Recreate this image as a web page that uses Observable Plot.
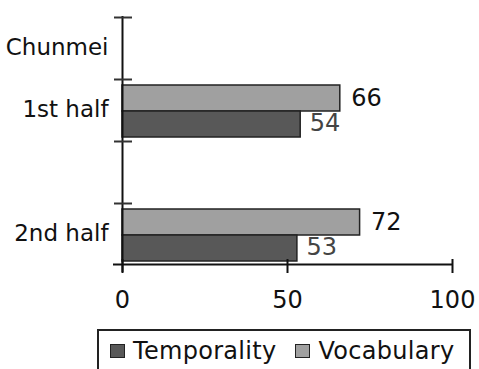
<!DOCTYPE html>
<html>
<head>
<meta charset="utf-8">
<script src="https://cdn.jsdelivr.net/npm/d3@7"></script>
<script src="https://cdn.jsdelivr.net/npm/@observablehq/plot@0.6"></script>
<style>
  html, body { margin: 0; padding: 0; background: #fff; }
  #wrap { position: relative; width: 479px; height: 369px; overflow: hidden; background: #fff; }
  #legend { position: absolute; left: 97px; top: 329px; width: 374px; height: 60px; box-sizing: border-box;
            border-top: 2px solid #222; border-left: 2px solid #222; border-right: 2px solid #222;
            font-family: "DejaVu Sans", sans-serif; font-size: 24px; letter-spacing: 0.3px; color: #111; }
  #legend .row { display: flex; align-items: center; height: 40px; padding-left: 11px; }
  #legend .sw { display: inline-block; width: 13px; height: 12px; border: 1px solid #222; margin-right: 8px; }
</style>
</head>
<body>
<div id="wrap"><div id="chart"></div><div id="legend"></div></div>
<script>
const groups = ["Chunmei", "1st half", " ", "2nd half"];
const barGroups = ["1st half", "2nd half"];
const seriesNames = ["Temporality", "Vocabulary"];
const temporality = [54, 53];
const vocabulary = [66, 72];
const xTicks = [0, 50, 100];
const colors = {Temporality: "#585858", Vocabulary: "#a0a0a0"};

const rows = barGroups.map((g, i) => ({group: g, Temporality: temporality[i], Vocabulary: vocabulary[i]}));

const chart = Plot.plot({
  width: 479,
  height: 322,
  marginLeft: 122,
  marginRight: 27,
  marginTop: 16,
  marginBottom: 58,
  x: {domain: [0, 100]},
  y: {domain: groups, padding: 0},
  style: {fontFamily: "DejaVu Sans, sans-serif", color: "#111", background: "white"},
  marks: [
    Plot.barX(rows, {y: "group", x: "Vocabulary", fill: colors.Vocabulary, stroke: "#222", strokeWidth: 1.5, insetTop: 7, insetBottom: 29}),
    Plot.barX(rows, {y: "group", x: "Temporality", fill: colors.Temporality, stroke: "#222", strokeWidth: 1.5, insetTop: 33, insetBottom: 3}),
    Plot.text(rows, {y: "group", x: "Vocabulary", text: d => String(d.Vocabulary), textAnchor: "start", dx: 11, dy: -11, fontSize: 24, fill: "#111"}),
    Plot.text(rows, {y: "group", x: "Temporality", text: d => String(d.Temporality), textAnchor: "start", dx: 9, dy: 14, fontSize: 24, fill: "#444"}),
    Plot.ruleX([0], {stroke: "#111", strokeWidth: 2, insetBottom: -8}),
    Plot.ruleY(groups, {y: d => d, x1: 0, x2: 0, insetLeft: -8, insetRight: -10, dy: -30, stroke: "#333", strokeWidth: 2}),
    Plot.ruleY([groups[groups.length - 1]], {y: d => d, x1: 0, x2: 100, insetLeft: -9, dy: 31, stroke: "#111", strokeWidth: 2}),
    Plot.tickX(xTicks, {x: d => d, y: () => groups[groups.length - 1], insetTop: 57, insetBottom: -9, stroke: "#111", strokeWidth: 2}),
    Plot.axisX({ticks: xTicks, tickSize: 0, tickPadding: 26, fontSize: 24, label: null}),
    Plot.axisY({tickSize: 0, tickPadding: 14, fontSize: 23, label: null})
  ]
});
document.getElementById("chart").appendChild(chart);

const legend = document.getElementById("legend");
const row = document.createElement("div");
row.className = "row";
seriesNames.forEach((name, i) => {
  const sw = document.createElement("span");
  sw.className = "sw";
  sw.style.background = colors[name];
  if (i > 0) sw.style.marginLeft = "19px";
  const t = document.createElement("span");
  t.textContent = name;
  row.appendChild(sw);
  row.appendChild(t);
});
legend.appendChild(row);
</script>
</body>
</html>
